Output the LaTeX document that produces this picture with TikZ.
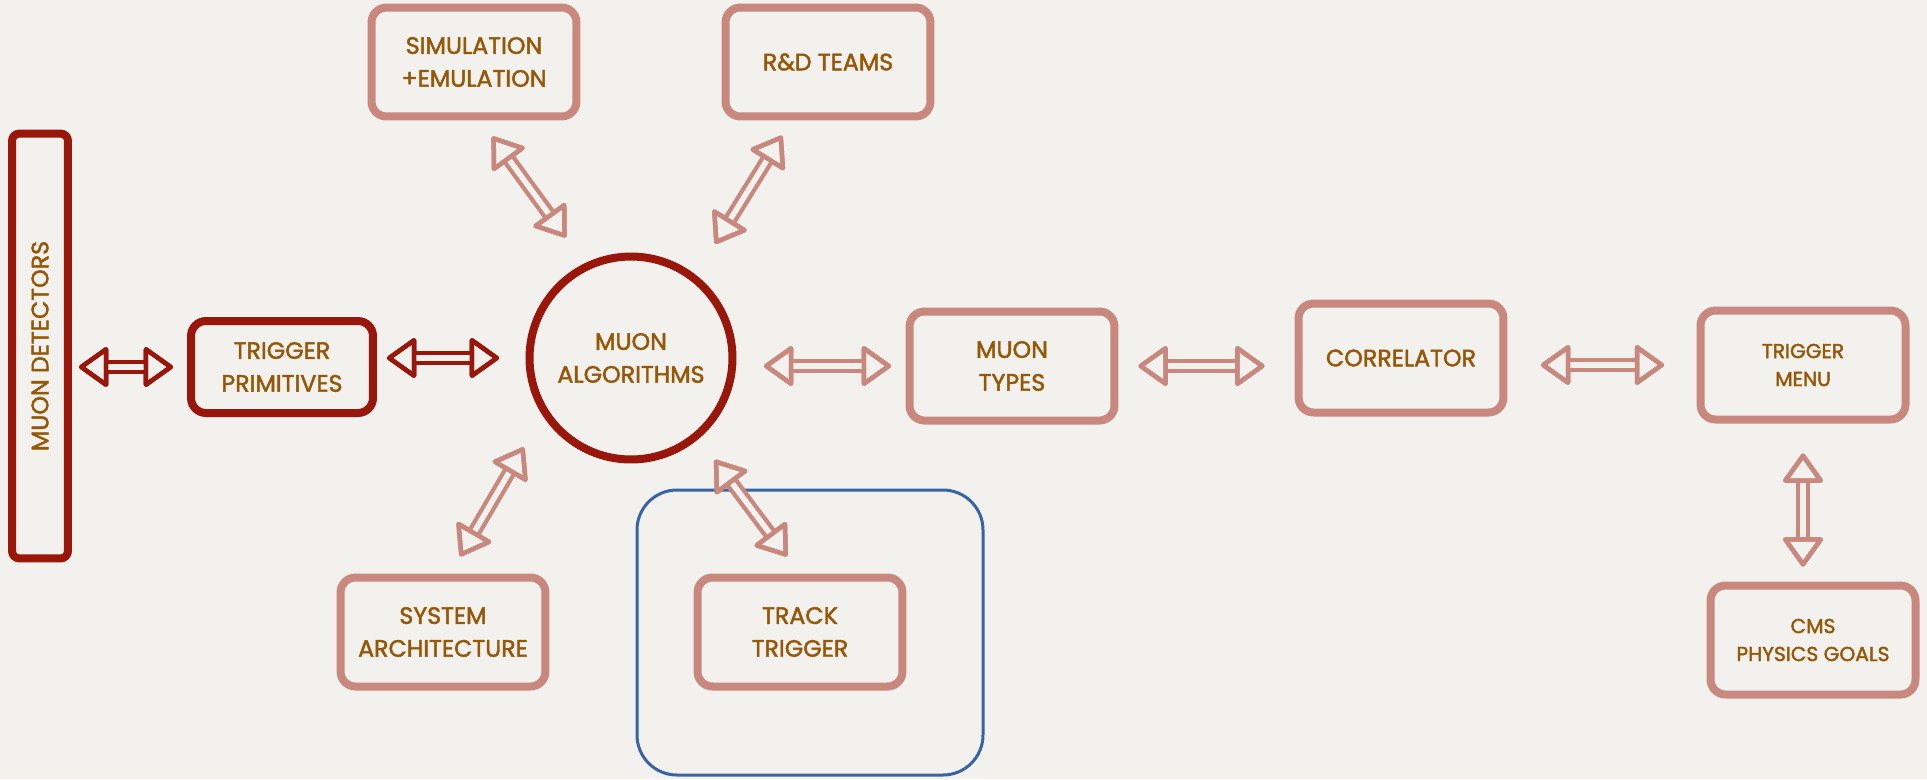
\documentclass[tikz,border=0pt]{standalone}
\usepackage{fontspec}
\setmainfont{Poppins}[FakeBold=2]
\usepackage{xcolor}
\usepackage{tikz}
\usetikzlibrary{arrows.meta}
\definecolor{papel}{RGB}{242, 241, 238}
\definecolor{rojomuon}{RGB}{152, 22, 10}
\definecolor{rosamuon}{RGB}{200, 136, 126}
\definecolor{textomuon}{RGB}{150, 88, 8}
\definecolor{azulmarco}{RGB}{56, 100, 166}

\begin{document}
\begin{tikzpicture}[x=0.02cm, y=-0.02cm,
    box/.style={rectangle, draw=rosamuon, line width=0.16cm, rounded corners=0.3cm,
                minimum width=4.1cm, minimum height=2.18cm, align=center,
                text=textomuon, font=\fontsize{13.5}{18.7}\selectfont},
    boxdark/.style={box, draw=rojomuon, minimum width=3.64cm, minimum height=1.84cm},
    smallbox/.style={box, font=\fontsize{11.5}{15.9}\selectfont},
    arrow/.style={draw=#1, line width=0.28cm,
                  {Triangle[open, round, length=0.62cm, width=0.86cm, line width=0.09cm, color=#1]}-%
                  {Triangle[open, round, length=0.62cm, width=0.86cm, line width=0.09cm, color=#1]},
                  postaction={draw=papel, line width=0.11cm}},
    arrow/.default=rosamuon
]
\fill[papel] (0,0) rectangle (1927,779);
\node (md) [boxdark, rotate=90, minimum width=8.5cm, minimum height=1.12cm,
            rounded corners=0.15cm] at (40,346) {MUON DETECTORS};
\node (tp) [boxdark] at (282,367) {TRIGGER\\PRIMITIVES};
\node (ma) [circle, draw=rojomuon, line width=0.16cm, minimum size=4.06cm, align=center,
            text=textomuon, font=\fontsize{13.5}{18.7}\selectfont] at (631,358) {MUON\\ALGORITHMS};
\node (sim) [box] at (474,62) {SIMULATION\\+EMULATION};
\node (rd) [box] at (828,62) {R\&D TEAMS};
\node (sa) [box] at (443,632) {SYSTEM\\ARCHITECTURE};
\node (tt) [box] at (800,632) {TRACK\\TRIGGER};
\node (mt) [box] at (1012,366) {MUON\\TYPES};
\node (cor) [box] at (1401,358) {CORRELATOR};
\node (tm) [smallbox] at (1803,365) {TRIGGER\\MENU};
\node (cms) [smallbox] at (1813,640) {CMS\\PHYSICS GOALS};
\draw [azulmarco, line width=0.06cm, rounded corners=0.8cm] (637,490) rectangle (983,775);
\draw [arrow=rojomuon, shorten <=0.14cm, shorten >=0.28cm] (md.south |- tp.west) -- (tp.west);
\draw [arrow=rojomuon, shorten <=0.2cm, shorten >=0.53cm] (tp.east |- ma.west) -- (ma.west);
\draw [arrow, shorten <=0.4cm, shorten >=0.64cm] ([xshift=0.13cm]sim.south) -- (ma.116);
\draw [arrow, shorten <=0.36cm, shorten >=0.73cm] ([xshift=-0.73cm]rd.south) -- (ma.52);
\draw [arrow, shorten <=0.4cm, shorten >=0.74cm] ([xshift=0.14cm]sa.north) -- (ma.213);
\draw [arrow, shorten <=0.43cm, shorten >=0.53cm] (tt.north) -- (ma.310);
\draw [arrow, shorten <=0.55cm, shorten >=0.29cm] (ma.east |- mt.west) -- (mt.west);
\draw [arrow, shorten <=0.4cm, shorten >=0.6cm] (mt.east) -- (mt.east -| cor.west);
\draw [arrow, shorten <=0.67cm, shorten >=0.65cm] (cor.east |- tm.west) -- (tm.west);
\draw [arrow, shorten <=0.6cm, shorten >=0.3cm] (tm.south) -- (tm.south |- cms.north);
\end{tikzpicture}
\end{document}
